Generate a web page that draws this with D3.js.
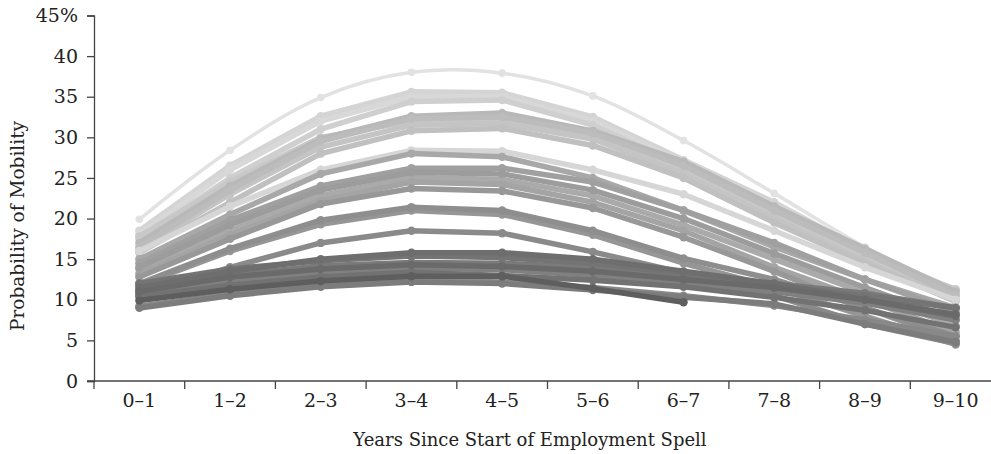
<!DOCTYPE html>
<html>
<head>
<meta charset="utf-8">
<script src="https://cdn.jsdelivr.net/npm/d3@7"></script>
<style>
  body { margin: 0; background: #fff; }
  svg text { font-family: "DejaVu Serif", serif; fill: #222; }
</style>
</head>
<body>
<div id="chart"></div>
<script>
// x categories
const years = ["0–1", "1–2", "2–3", "3–4", "4–5", "5–6", "6–7", "7–8", "8–9", "9–10"];
const yTicks = [0, 5, 10, 15, 20, 25, 30, 35, 40, 45];

// one array per group, gray tone in the second list (drawn light first, dark last)
const seriesValues = [
  [19.9, 28.4, 34.9, 38.0, 37.9, 35.1, 29.6, 23.1, 16.5, 11.0],
  [18.5, 26.5, 32.6, 35.6, 35.5, 32.5, 27.2, 22.0, 16.0, 11.2],
  [18.0, 26.0, 32.0, 35.0, 35.0, 32.0, 26.9, 21.5, 15.5, 10.8],
  [17.5, 25.0, 31.0, 34.4, 34.6, 31.5, 26.5, 21.0, 15.0, 10.5],
  [17.8, 24.5, 30.0, 32.0, 32.0, 30.0, 26.0, 20.5, 15.5, 11.3],
  [16.2, 23.0, 28.8, 31.5, 31.7, 29.8, 25.5, 20.0, 14.8, 10.0],
  [15.8, 22.0, 28.0, 30.8, 31.1, 29.0, 25.0, 19.5, 14.5, 9.8],
  [17.0, 24.0, 29.8, 32.6, 33.0, 30.8, 27.0, 21.5, 16.3, 11.0],
  [16.5, 23.5, 29.5, 32.3, 32.5, 30.5, 26.5, 21.0, 15.8, 10.5],
  [16.0, 21.5, 26.0, 28.4, 28.3, 26.0, 23.0, 18.5, 14.0, 10.0],
  [15.0, 20.5, 25.5, 28.0, 27.6, 25.0, 21.0, 16.5, 12.5, 9.0],
  [14.5, 19.8, 24.0, 26.2, 26.2, 24.5, 21.0, 17.0, 12.5, 8.5],
  [13.8, 18.5, 22.8, 25.1, 24.8, 22.8, 19.2, 15.0, 10.8, 6.8],
  [13.2, 18.0, 22.2, 24.5, 24.2, 22.0, 18.5, 14.0, 10.0, 6.0],
  [14.0, 19.2, 23.5, 25.7, 25.5, 23.5, 20.0, 15.7, 11.5, 7.5],
  [12.8, 17.5, 21.8, 23.7, 23.4, 21.3, 17.7, 13.5, 9.0, 5.0],
  [11.8, 16.0, 19.3, 21.0, 20.5, 18.0, 14.5, 11.5, 8.0, 4.5],
  [12.0, 16.3, 19.8, 21.4, 21.0, 18.5, 15.1, 12.5, 9.0, 5.5],
  [10.5, 14.0, 17.0, 18.5, 18.2, 15.9, 13.3, 10.5, 7.0, 4.6],
  [9.2, 10.7, 11.8, 12.4, 12.2, 11.5, 10.5, 9.3, 7.5, 5.5],
  [9.0, 10.5, 11.6, 12.2, 12.0, 11.2, 10.3, 9.5, 7.0, 4.8],
  [10.8, 12.3, 13.3, 13.9, 13.7, 13.0, 12.0, 11.0, 9.6, 7.5],
  [11.2, 13.0, 14.2, 14.6, 14.5, 14.0, 13.0, 12.0, 10.8, 9.0],
  [12.0, 13.8, 14.8, 15.4, 15.2, 14.5, 13.2, 11.8, 10.5, 9.0],
  [10.4, 11.8, 12.8, 13.4, 13.0, 12.4, 11.6, 10.3, 8.7, 6.6],
  [11.5, 13.5, 15.0, 15.8, 15.8, 15.0, 13.5, 12.0, 10.0, 8.0],
  [11.0, 12.8, 13.8, 14.3, 14.1, 13.5, 12.5, 11.5, 10.0, 8.2],
  [9.9, 11.3, 12.3, 12.9, 12.9, 11.4, 9.7, null, null, null]
];
const seriesGrays = [
  "#e2e2e2", "#d4d4d4", "#d8d8d8", "#cfcfcf", "#c8c8c8", "#c4c4c4", "#c0c0c0",
  "#b8b8b8", "#bcbcbc", "#d6d6d6", "#a8a8a8", "#a0a0a0", "#aaaaaa", "#a4a4a4",
  "#9c9c9c", "#989898", "#969696", "#8e8e8e", "#8a8a8a", "#888888", "#7c7c7c",
  "#808080", "#7a7a7a", "#747474", "#727272", "#6e6e6e", "#6a6a6a", "#5e5e5e"
];

const width = 991, height = 454;
const margin = { top: 15.5, right: -10, bottom: 73, left: 94 };

const svg = d3.select("#chart").append("svg")
  .attr("width", width)
  .attr("height", height);

const x = d3.scaleBand()
  .domain(years)
  .range([margin.left, width - margin.right])
  .padding(0);

const y = d3.scaleLinear()
  .domain([0, 45])
  .range([height - margin.bottom, margin.top]);

const cx = d => x(d) + x.bandwidth() / 2;

// axes
const yAxis = svg.append("g")
  .attr("transform", `translate(${margin.left},0)`)
  .call(d3.axisLeft(y).tickValues(yTicks).tickSize(7).tickPadding(9)
    .tickFormat(d => d === 45 ? "45%" : d));
yAxis.selectAll("text").attr("font-size", 19);
yAxis.select(".domain").attr("stroke", "#444").attr("stroke-width", 1.3);
yAxis.selectAll(".tick line").attr("stroke", "#444").attr("stroke-width", 1.3);

const boundaries = years.map(d => x(d)).concat([x(years[years.length - 1]) + x.bandwidth()]);
const xAxis = svg.append("g")
  .attr("transform", `translate(0,${y(0)})`);
xAxis.append("line")
  .attr("x1", margin.left - 7).attr("x2", width)
  .attr("stroke", "#444").attr("stroke-width", 1.3);
xAxis.selectAll("line.tk")
  .data(boundaries)
  .join("line")
  .attr("class", "tk")
  .attr("x1", d => d).attr("x2", d => d)
  .attr("y1", 0).attr("y2", 8)
  .attr("stroke", "#444").attr("stroke-width", 1.3);
xAxis.selectAll("text")
  .data(years)
  .join("text")
  .attr("x", d => cx(d))
  .attr("y", 26)
  .attr("text-anchor", "middle")
  .attr("font-size", 19)
  .text(d => d);

// axis titles
svg.append("text")
  .attr("x", 530)
  .attr("y", 446)
  .attr("text-anchor", "middle")
  .attr("font-size", 18)
  .text("Years Since Start of Employment Spell");

svg.append("text")
  .attr("transform", `translate(24,${226}) rotate(-90)`)
  .attr("text-anchor", "middle")
  .attr("font-size", 18.5)
  .text("Probability of Mobility");

// lines: the top one is smoothed, the rest are straight segments
const lineFor = smooth => d3.line()
  .defined(d => d.v != null)
  .x(d => cx(d.k))
  .y(d => y(d.v))
  .curve(smooth ? d3.curveCatmullRom.alpha(0.5) : d3.curveLinear);

const series = seriesValues.map((vals, i) => ({
  color: seriesGrays[i],
  thin: i === 0,
  pts: vals.map((v, j) => ({ k: years[j], v }))
}));

const g = svg.selectAll("g.series")
  .data(series)
  .join("g")
  .attr("class", "series");

g.append("path")
  .attr("fill", "none")
  .attr("stroke", d => d.color)
  .attr("stroke-width", d => d.thin ? 3.5 : 5.5)
  .attr("stroke-linejoin", "round")
  .attr("d", d => lineFor(d.thin)(d.pts));

g.selectAll("circle")
  .data(d => d.pts.filter(p => p.v != null).map(p => ({ ...p, color: d.color, thin: d.thin })))
  .join("circle")
  .attr("cx", d => cx(d.k))
  .attr("cy", d => y(d.v))
  .attr("r", d => d.thin ? 3.8 : 4.2)
  .attr("fill", d => d.color);
</script>
</body>
</html>
